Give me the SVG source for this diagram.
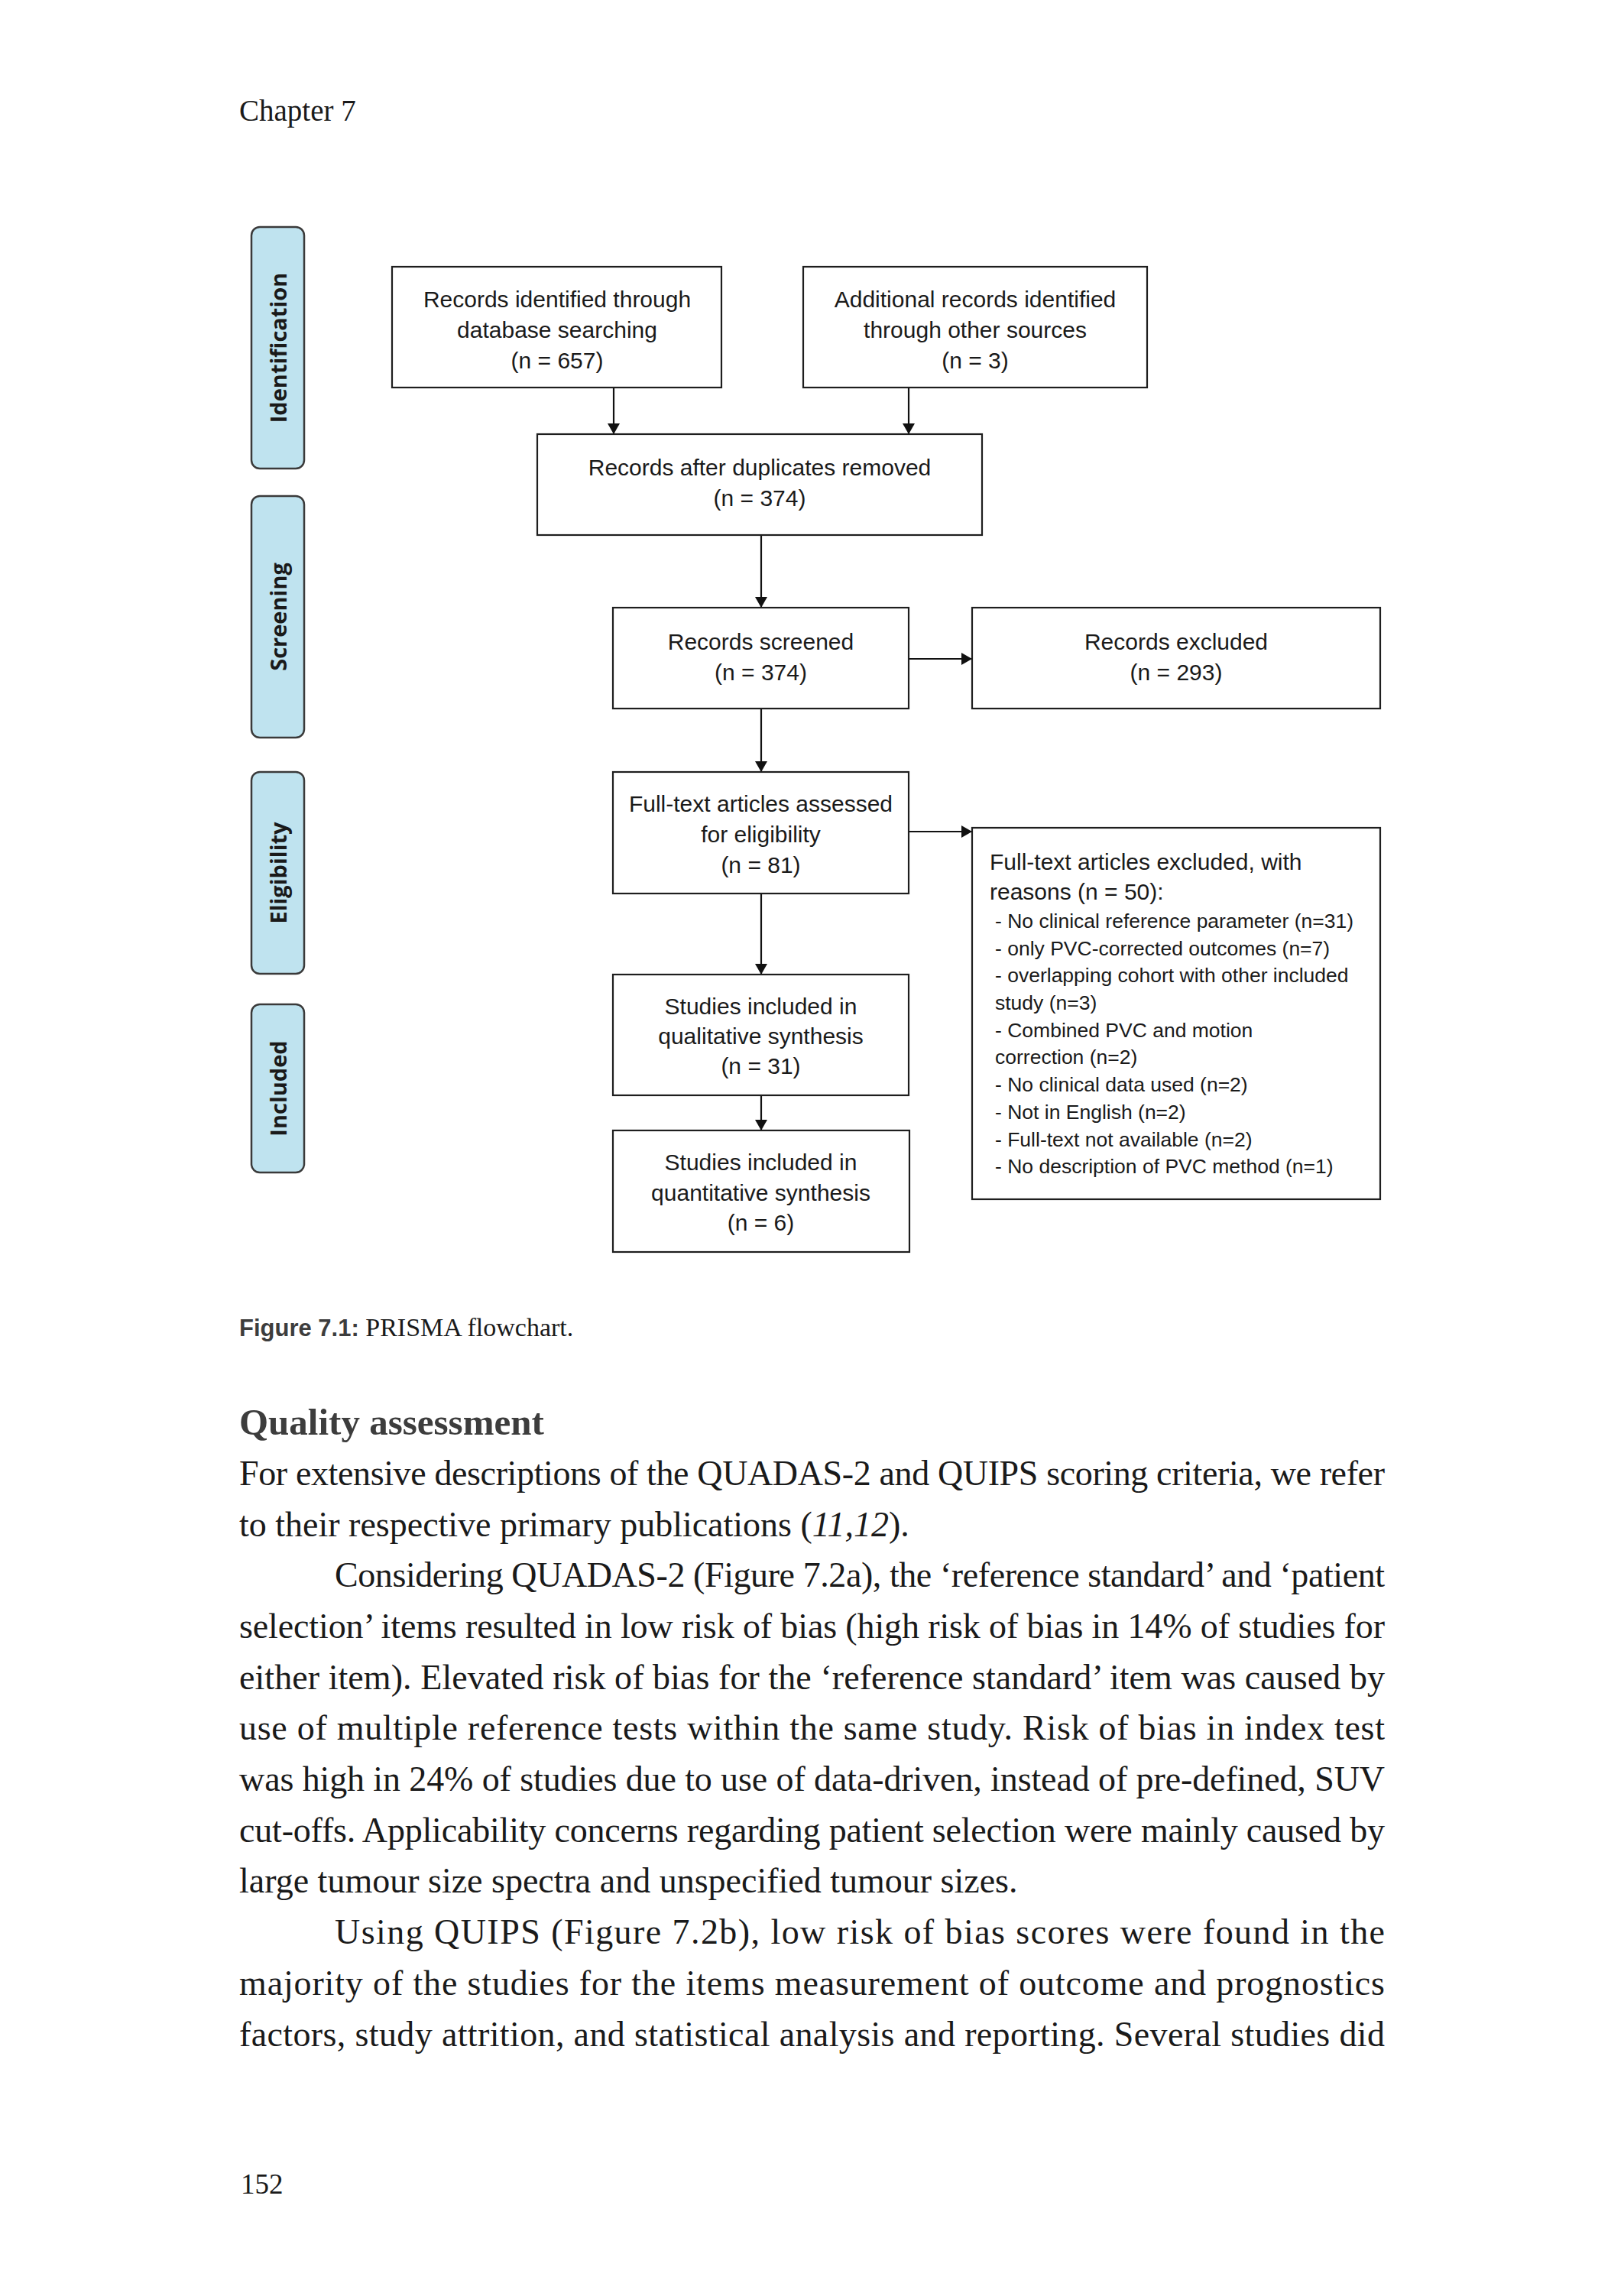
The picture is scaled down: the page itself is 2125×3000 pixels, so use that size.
<svg xmlns="http://www.w3.org/2000/svg" width="2125" height="3000" viewBox="0 0 2125 3000">
<defs>
<style>
.box{fill:#fff;stroke:#1e1e1e;stroke-width:2.2}
.lab{fill:#bfe3ef;stroke:#3a3a3a;stroke-width:2.5}
.bt{font-family:"Liberation Sans",Arial,sans-serif;font-size:30px;fill:#1a1a1a;text-anchor:middle}
.lt{font-family:"Liberation Sans",Arial,sans-serif;font-size:30px;fill:#1a1a1a}
.sm{font-size:26.5px}
.side{font-family:"Open Sans","DejaVu Sans",sans-serif;font-weight:700;font-size:29px;fill:#1a1a1a;text-anchor:middle}
.conn{stroke:#111;stroke-width:2.2;fill:none;marker-end:url(#ah)}
.serif{font-family:"Liberation Serif","Times New Roman",serif;fill:#1a1a1a}
.body{font-size:46px}
</style>
<marker id="ah" markerUnits="userSpaceOnUse" markerWidth="16" markerHeight="16" refX="14" refY="8" orient="auto">
<path d="M0,0 L14,8 L0,16 Z" fill="#111"/>
</marker>
</defs>
<rect width="2125" height="3000" fill="#fff"/>

<text class="serif" x="313" y="158" font-size="39">Chapter 7</text>

<g id="label-identification">
<rect class="lab" x="329" y="297" width="69" height="316" rx="11"/>
<text class="side" transform="translate(375,455) rotate(-90)">Identification</text>
</g>
<g id="label-screening">
<rect class="lab" x="329" y="649" width="69" height="316" rx="11"/>
<text class="side" transform="translate(375,807) rotate(-90)">Screening</text>
</g>
<g id="label-eligibility">
<rect class="lab" x="329" y="1010" width="69" height="264" rx="11"/>
<text class="side" transform="translate(375,1142) rotate(-90)">Eligibility</text>
</g>
<g id="label-included">
<rect class="lab" x="329" y="1314" width="69" height="220" rx="11"/>
<text class="side" transform="translate(375,1424) rotate(-90)">Included</text>
</g>

<g id="connectors">
<line class="conn" x1="803" y1="507" x2="803" y2="568"/>
<line class="conn" x1="1189" y1="507" x2="1189" y2="568"/>
<line class="conn" x1="996" y1="700" x2="996" y2="795"/>
<line class="conn" x1="1189" y1="862" x2="1272" y2="862"/>
<line class="conn" x1="996" y1="927" x2="996" y2="1010"/>
<line class="conn" x1="1189" y1="1088" x2="1272" y2="1088"/>
<line class="conn" x1="996" y1="1169" x2="996" y2="1275"/>
<line class="conn" x1="996" y1="1433" x2="996" y2="1479"/>
</g>

<g id="n-database">
<rect class="box" x="513" y="349" width="431" height="158"/>
<text class="bt" x="729" y="402">Records identified through</text>
<text class="bt" x="729" y="442">database searching</text>
<text class="bt" x="729" y="482">(n = 657)</text>
</g>
<g id="n-other">
<rect class="box" x="1051" y="349" width="450" height="158"/>
<text class="bt" x="1276" y="402">Additional records identified</text>
<text class="bt" x="1276" y="442">through other sources</text>
<text class="bt" x="1276" y="482">(n = 3)</text>
</g>
<g id="n-duplicates">
<rect class="box" x="703" y="568" width="582" height="132"/>
<text class="bt" x="994" y="622">Records after duplicates removed</text>
<text class="bt" x="994" y="662">(n = 374)</text>
</g>
<g id="n-screened">
<rect class="box" x="802" y="795" width="387" height="132"/>
<text class="bt" x="995.5" y="850">Records screened</text>
<text class="bt" x="995.5" y="890">(n = 374)</text>
</g>
<g id="n-excluded">
<rect class="box" x="1272" y="795" width="534" height="132"/>
<text class="bt" x="1539" y="850">Records excluded</text>
<text class="bt" x="1539" y="890">(n = 293)</text>
</g>
<g id="n-fulltext">
<rect class="box" x="802" y="1010" width="387" height="159"/>
<text class="bt" x="995.5" y="1062">Full-text articles assessed</text>
<text class="bt" x="995.5" y="1102">for eligibility</text>
<text class="bt" x="995.5" y="1142">(n = 81)</text>
</g>
<g id="n-reasons">
<rect class="box" x="1272" y="1083" width="534" height="486"/>
<text class="lt" x="1295" y="1138">Full-text articles excluded, with</text>
<text class="lt" x="1295" y="1177">reasons (n = 50):</text>
<text class="lt sm" x="1302" y="1214">- No clinical reference parameter (n=31)</text>
<text class="lt sm" x="1302" y="1250">- only PVC-corrected outcomes (n=7)</text>
<text class="lt sm" x="1302" y="1285">- overlapping cohort with other included</text>
<text class="lt sm" x="1302" y="1321">study (n=3)</text>
<text class="lt sm" x="1302" y="1357">- Combined PVC and motion</text>
<text class="lt sm" x="1302" y="1392">correction (n=2)</text>
<text class="lt sm" x="1302" y="1428">- No clinical data used (n=2)</text>
<text class="lt sm" x="1302" y="1464">- Not in English (n=2)</text>
<text class="lt sm" x="1302" y="1500">- Full-text not available (n=2)</text>
<text class="lt sm" x="1302" y="1535">- No description of PVC method (n=1)</text>
</g>
<g id="n-qualitative">
<rect class="box" x="802" y="1275" width="387" height="158"/>
<text class="bt" x="995.5" y="1327">Studies included in</text>
<text class="bt" x="995.5" y="1366">qualitative synthesis</text>
<text class="bt" x="995.5" y="1405">(n = 31)</text>
</g>
<g id="n-quantitative">
<rect class="box" x="802" y="1479" width="388" height="159"/>
<text class="bt" x="995.5" y="1531">Studies included in</text>
<text class="bt" x="995.5" y="1571">quantitative synthesis</text>
<text class="bt" x="995.5" y="1610">(n = 6)</text>
</g>

<text x="313" y="1748"><tspan font-family="Liberation Sans, Arial, sans-serif" font-weight="700" font-size="31" fill="#3d3d3d">Figure 7.1:</tspan><tspan class="serif" font-size="34"> PRISMA flowchart.</tspan></text>

<text class="serif" x="313" y="1877" font-size="49" font-weight="700" fill="#3d3d3d" style="fill:#3d3d3d">Quality assessment</text>

<g class="serif body">
<text x="313" y="1943" textLength="1499" lengthAdjust="spacing">For extensive descriptions of the QUADAS-2 and QUIPS scoring criteria, we refer</text>
<text x="313" y="2010">to their respective primary publications (<tspan font-style="italic">11,12</tspan>).</text>
<text x="438" y="2076" textLength="1374" lengthAdjust="spacing">Considering QUADAS-2 (Figure 7.2a), the ‘reference standard’ and ‘patient</text>
<text x="313" y="2143" textLength="1499" lengthAdjust="spacing">selection’ items resulted in low risk of bias (high risk of bias in 14% of studies for</text>
<text x="313" y="2210" textLength="1499" lengthAdjust="spacing">either item). Elevated risk of bias for the ‘reference standard’ item was caused by</text>
<text x="313" y="2276" textLength="1499" lengthAdjust="spacing">use of multiple reference tests within the same study. Risk of bias in index test</text>
<text x="313" y="2343" textLength="1499" lengthAdjust="spacing">was high in 24% of studies due to use of data-driven, instead of pre-defined, SUV</text>
<text x="313" y="2410" textLength="1499" lengthAdjust="spacing">cut-offs. Applicability concerns regarding patient selection were mainly caused by</text>
<text x="313" y="2476">large tumour size spectra and unspecified tumour sizes.</text>
<text x="438" y="2543" textLength="1374" lengthAdjust="spacing">Using QUIPS (Figure 7.2b), low risk of bias scores were found in the</text>
<text x="313" y="2610" textLength="1499" lengthAdjust="spacing">majority of the studies for the items measurement of outcome and prognostics</text>
<text x="313" y="2677" textLength="1499" lengthAdjust="spacing">factors, study attrition, and statistical analysis and reporting. Several studies did</text>
</g>

<text class="serif" x="315" y="2870" font-size="37">152</text>
</svg>
